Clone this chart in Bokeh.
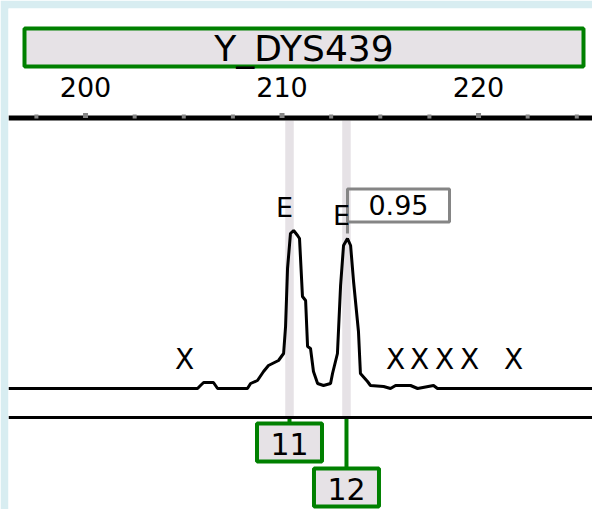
from bokeh.plotting import figure
from bokeh.models import Range1d
from bokeh.core.properties import value
from bokeh.embed import file_html
from bokeh.resources import INLINE

# ---------------- data ----------------
marker_title = "Y_DYS439"
major_ticks = [200, 210, 220]
tick_labels = ["200", "210", "220"]
minor_ticks = [197.5, 202.5, 205, 207.5, 212.5, 215, 217.5, 222.5, 225]

# trace: size (bp) vs signal (RFU-like units)
sizes = [196.08, 205.70, 205.85, 206.01, 206.51, 206.72, 208.24, 208.40, 208.75,
         209.06, 209.31, 209.82, 210.08, 210.18, 210.28, 210.43, 210.59, 210.79,
         210.89, 211.04, 211.20, 211.30, 211.45, 211.60, 211.81, 212.11, 212.47,
         212.57, 212.82, 212.98, 213.13, 213.33, 213.49, 213.64, 213.89, 213.99,
         214.35, 214.50, 215.17, 215.52, 215.78, 216.54, 216.90, 217.71, 217.91,
         225.80]
signal = [0, 0, 30, 60, 60, 0, 0, 50, 80,
          170, 230, 280, 350, 620, 1200, 1550, 1580, 1530,
          1500, 920, 880, 420, 400, 170, 50, 30, 50,
          150, 350, 1030, 1430, 1500, 1430, 1070, 570, 150,
          70, 30, 20, 0, 30, 30, 0, 30, 0,
          0]

allele_sizes = [210.38, 213.28]
allele_labels = ["11", "12"]
allele_heights = [1580, 1500]
peak_flags = ["E", "E"]
artifact_sizes = [205.04, 215.78, 217.00, 218.27, 219.54, 221.78]
quality_label = "0.95"

# ---------------- styling constants ----------------
BLUE = "#d8edf1"
GREEN = "#008000"
BOXFILL = "#e6e2e6"
GRAY = "#858585"
FONT = value("DejaVu Sans")
PX = 19.65   # pixels per bp
YU = 10.0    # signal units per pixel

p = figure(width=592, height=509, output_backend="svg", toolbar_location=None,
           x_range=Range1d(196.08, 225.80), y_range=Range1d(-1210, 3800),
           x_axis_location=None, y_axis_location=None,
           min_border=0, min_border_left=8, min_border_top=8,
           min_border_right=0, min_border_bottom=0)
p.border_fill_color = BLUE
p.background_fill_color = "white"
p.outline_line_color = None
p.xgrid.visible = False
p.ygrid.visible = False

x0, x1 = 196.08, 225.80


def txt(x, y, t, size):
    p.text(x=x, y=y, text=t, text_font=FONT, text_font_size=size,
           text_align="center", text_baseline="middle", text_color="black")


# title box
tl, tr = x0 + 16 / PX, x1 - 9 / PX
p.quad(left=[tl], right=[tr], top=[3600], bottom=[3220],
       fill_color=BOXFILL, line_color=GREEN, line_width=4)
txt([(tl + tr) / 2], [3400], [marker_title], "36px")

# tick labels
txt(major_ticks, [3020] * len(major_ticks), tick_labels, "27px")

# allele bands
band_w = 8.5 / PX
p.quad(left=[a - band_w / 2 for a in allele_sizes],
       right=[a + band_w / 2 for a in allele_sizes],
       top=[2680] * len(allele_sizes), bottom=[-290] * len(allele_sizes),
       fill_color=BOXFILL, line_color=None)

# axis line + ticks
p.segment(x0=[x0], x1=[x1], y0=[2705], y1=[2705], line_color="black", line_width=5)
p.scatter(x=minor_ticks, y=[2720] * len(minor_ticks), marker="square", size=4,
          fill_color=GRAY, line_color=None)
p.scatter(x=major_ticks, y=[2730] * len(major_ticks), marker="square", size=5,
          fill_color=GRAY, line_color=None)

# trace
p.line(sizes, signal, line_color="black", line_width=3)

# quality box on second peak
qx = allele_sizes[1] + 1 / PX
p.segment(x0=[qx], x1=[qx], y0=[1650], y1=[allele_heights[1] + 50],
          line_color=GRAY, line_width=3)
p.quad(left=[qx], right=[qx + 102 / PX], top=[1995], bottom=[1665],
       fill_color=None, line_color=GRAY, line_width=3)
txt([qx + 51 / PX], [1840], [quality_label], "27px")

# peak flags
txt([a - 5 / PX for a in allele_sizes], [h + 235 for h in allele_heights],
    peak_flags, "27px")

# artifact markers
txt(artifact_sizes, [290] * len(artifact_sizes), ["X"] * len(artifact_sizes), "28px")

# allele call boxes with connectors
half = 32.5 / PX
for i, (a, lab) in enumerate(zip(allele_sizes, allele_labels)):
    top = -350 - i * 450
    bot = top - 380
    p.segment(x0=[a], x1=[a], y0=[-290], y1=[top], line_color=GREEN, line_width=4)
    p.quad(left=[a - half], right=[a + half], top=[top], bottom=[bot],
           fill_color=BOXFILL, line_color=GREEN, line_width=4)
    txt([a], [(top + bot) / 2 - 15], [lab], "30px")

# bottom line
p.segment(x0=[x0], x1=[x1], y0=[-290], y1=[-290], line_color="black", line_width=3)

open("out.html", "w").write(file_html(p, INLINE))
